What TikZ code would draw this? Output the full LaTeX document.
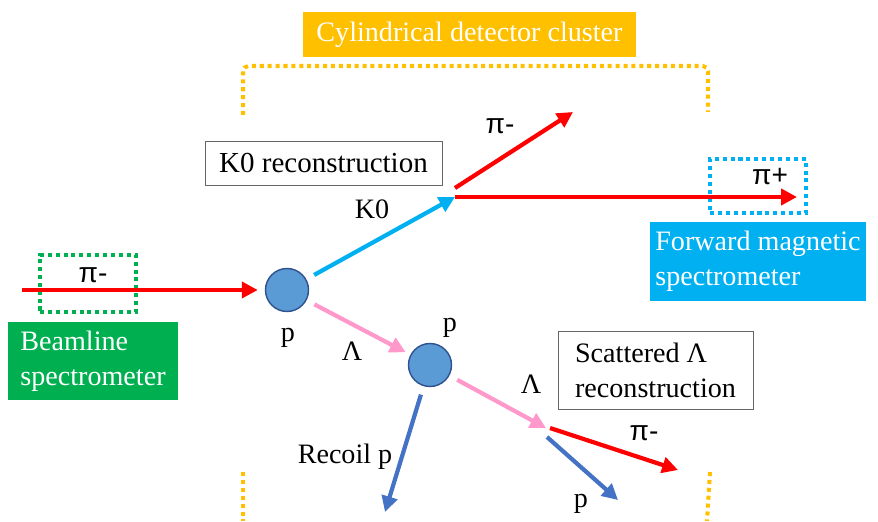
\documentclass[tikz,border=0pt]{standalone}
\usepackage{fontspec}
\setmainfont{Liberation Serif}
\newfontfamily\pifont{Liberation Sans}
\usetikzlibrary{arrows.meta,positioning}

\definecolor{clusteryellow}{HTML}{FFC000}
\definecolor{beamgreen}{HTML}{00B050}
\definecolor{fwdblue}{HTML}{00B0F0}
\definecolor{lampink}{HTML}{FF99CC}
\definecolor{protblue}{HTML}{4472C4}
\definecolor{targetfill}{HTML}{5B9BD5}
\definecolor{targetedge}{HTML}{2F528F}

\tikzset{
  track/.style={line width=2.4pt, -{Triangle[length=9pt,width=9pt]}},
  lbl/.style={font=\fontsize{16}{20}\selectfont, inner sep=1pt},
  pilbl/.style={font=\pifont\fontsize{16}{20}\selectfont, inner sep=1pt},
  dotbox/.style={line width=2.3pt, dash pattern=on 2.3pt off 2.2pt},
  target/.style={circle, fill=targetfill, draw=targetedge, thick,
    minimum size=0.86cm, inner sep=0pt},
  recobox/.style={rectangle, draw=black!60, thin, align=left, lbl}
}

\begin{document}
\begin{tikzpicture}
\useasboundingbox (0,0) rectangle (17.56,10.42);

% detector boxes
\node[rectangle,
    fill = clusteryellow,
    text = white,
    minimum width = 6.66cm,
    minimum height = 0.9cm,
    lbl]
    (cluster) at (9.39,9.73) {Cylindrical detector cluster};
\draw[dotbox, clusteryellow, rounded corners=3pt]
    (4.86,8.12) -- (4.86,9.1) -- (14.16,9.1) -- (14.16,8.18);
\draw[dotbox, clusteryellow] (4.86,0.98) -- (4.86,0);
\draw[dotbox, clusteryellow] (14.2,0.98) -- (14.14,0);

\node[rectangle,
    fill = beamgreen,
    text = white,
    minimum width = 3.4cm,
    minimum height = 1.56cm,
    align = left,
    lbl]
    (beamline) at (1.86,3.2) {Beamline\\spectrometer};
\node[dotbox, draw=beamgreen, minimum width=1.92cm, minimum height=1.14cm]
    (beamdet) at (1.76,4.75) {};

\node[rectangle,
    fill = fwdblue,
    text = white,
    minimum width = 4.32cm,
    minimum height = 1.58cm,
    align = left,
    lbl]
    (forward) at (15.16,5.19) {Forward magnetic\\spectrometer};
\node[dotbox, draw=fwdblue, minimum width=1.92cm, minimum height=1.08cm]
    (fwddet) at (15.16,6.7) {};

\node[recobox, minimum width=4.74cm, minimum height=0.88cm,
    font=\fontsize{16.5}{20}\selectfont]
    (k0reco) at (6.47,7.16) {K0 reconstruction};
\node[recobox, minimum width=3.9cm, minimum height=1.56cm]
    (lamreco) at (13.11,3.02) {Scattered Λ\\reconstruction};

% targets and vertices
\node[target] (p1) at (5.74,4.62) {};
\node[target] (p2) at (8.6,3.12) {};

\coordinate (beamstart) at (0.44,4.62);
\coordinate (kvtx) at (9.1,6.48);
\coordinate (kvtxup) at (9.1,6.66);
\coordinate (pimtop) at (11.46,8.18);
\coordinate (pipend) at (15.94,6.48);
\coordinate (recoilend) at (7.7,0.18);
\coordinate (lvtx) at (10.92,1.86);
\coordinate (lpistart) at (11.0,1.86);
\coordinate (lpstart) at (10.94,1.68);
\coordinate (pimlow) at (13.56,1.02);
\coordinate (plow) at (12.36,0.42);

% tracks
\draw[track, red, shorten >=4pt] (beamstart) -- (p1);
\draw[track, fwdblue, shorten <=5pt] (p1) -- (kvtx);
\draw[track, red] (kvtxup) -- (pimtop);
\draw[track, red] (kvtx) -- (pipend);
\draw[track, lampink, shorten <=5pt, shorten >=3pt] (p1) -- (p2);
\draw[track, protblue, shorten <=5pt] (p2) -- (recoilend);
\draw[track, lampink, shorten <=5pt] (p2) -- (lvtx);
\draw[track, red] (lpistart) -- (pimlow);
\draw[track, protblue] (lpstart) -- (plow);

% labels
\node[pilbl] (pibeam) at (1.86,4.92) {π-};
\node[lbl] (p1lbl) at (5.76,3.66) {p};
\node[lbl] (k0lbl) at (7.44,6.24) {K0};
\node[pilbl] (pimtoplbl) at (10.0,7.9) {π-};
\node[pilbl] (piplbl) at (15.4,6.88) {π+};
\node[lbl] (lam1lbl) at (7.04,3.4) {Λ};
\node[lbl] (p2lbl) at (9.0,3.86) {p};
\node[lbl] (recoillbl) at (6.9,1.28) {Recoil p};
\node[lbl] (lam2lbl) at (10.62,2.74) {Λ};
\node[pilbl] (pimlowlbl) at (12.88,1.76) {π-};
\node[lbl] (plowlbl) at (11.62,0.34) {p};

\end{tikzpicture}
\end{document}
